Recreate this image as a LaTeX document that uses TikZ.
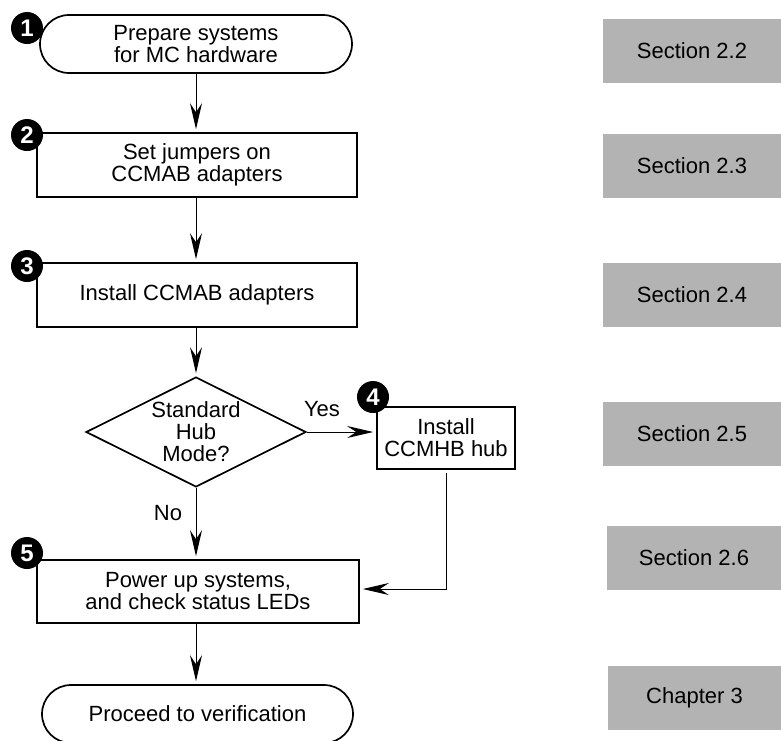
\documentclass[tikz,border=0pt]{standalone}
\usepackage{fontspec}
\setmainfont{Liberation Sans}
\usetikzlibrary{shapes.geometric,arrows.meta,calc}
\definecolor{refgray}{RGB}{179,179,179}
\begin{document}
\begin{tikzpicture}[x=1pt,y=-1pt,
  every node/.style={font=\fontsize{22}{22}\selectfont, align=center, inner sep=0pt},
  stepbox/.style={draw, line width=1.7pt, rectangle},
  terminal/.style={draw, line width=1.7pt, rectangle, rounded corners=29pt},
  decision/.style={draw, line width=1.7pt, diamond},
  refbox/.style={fill=refgray, rectangle, minimum height=64pt},
  badge/.style={circle, fill=black, minimum size=32pt, text=white,
    font=\fontsize{24}{24}\selectfont\bfseries},
  flow/.style={line width=1pt, shorten >=3pt,
    -{Stealth[length=26pt,width=12pt,inset=9pt]}},
  lbl/.style={font=\fontsize{22}{22}\selectfont}
]
\useasboundingbox (0,0) rectangle (781,740);

% main flow
\node[terminal, minimum width=312pt, minimum height=58pt] (t1) at (196,44)
  {Prepare systems\\for MC hardware};
\node[stepbox, minimum width=320pt, minimum height=64pt] (b2) at (197,165)
  {Set jumpers on\\CCMAB adapters};
\node[stepbox, minimum width=320pt, minimum height=64pt] (b3) at (197,295)
  {Install CCMAB adapters};
\node[decision, minimum width=220pt, minimum height=110pt] (dec) at (196,432) {};
\node (dectext) at (196,432) {Standard\\Hub\\Mode?};
\node[stepbox, minimum width=138pt, minimum height=62pt] (b4) at (446,438)
  {Install\\CCMHB hub};
\node[stepbox, minimum width=322pt, minimum height=63pt] (b5) at (198,591.5)
  {Power up systems,\\and check status LEDs};
\node[terminal, minimum width=311pt, minimum height=58pt] (t2) at (197.5,714)
  {Proceed to verification};

% step numbers
\node[badge] (n1) at (27,28) {1};
\node[badge] (n2) at (27,135) {2};
\node[badge] (n3) at (27,266) {3};
\node[badge] (n4) at (373,397) {4};
\node[badge] (n5) at (27,553) {5};

% connectors
\draw[flow] (t1.south) -- (t1.south |- b2.north);
\draw[flow] (b2.south -| t1.south) -- (t1.south |- b3.north);
\draw[flow] (b3.south -| t1.south) -- (dec.north);
\draw[flow] (dec.east) -- (dec.east -| b4.west);
\draw[flow] (dec.south) -- (dec.south |- b5.north);
\draw[flow, shorten <=3pt] (b4.south) |- ($(b5.east)+(0,-2.5)$);
\draw[flow] (b5.south -| t1.south) -- (t1.south |- t2.north);

% branch labels
\node[lbl] (yes) at (322,409) {Yes};
\node[lbl] (no) at (168,513) {No};

% reference sections
\node[refbox, minimum width=178pt] (s22) at (692,51) {Section 2.2};
\node[refbox, minimum width=178pt] (s23) at (692,166) {Section 2.3};
\node[refbox, minimum width=178pt] (s24) at (692,295) {Section 2.4};
\node[refbox, minimum width=178pt] (s25) at (692,434) {Section 2.5};
\node[refbox, minimum width=174pt] (s26) at (694,557.5) {Section 2.6};
\node[refbox, minimum width=173pt] (ch3) at (694.5,697.5) {Chapter 3};
\end{tikzpicture}
\end{document}
